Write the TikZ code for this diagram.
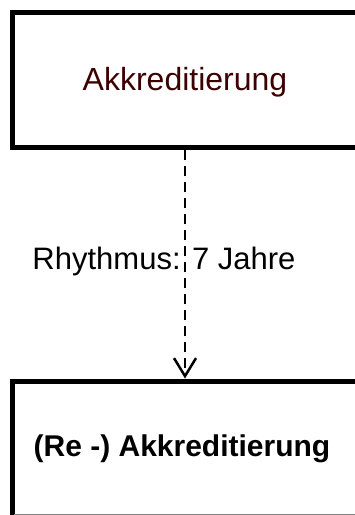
\documentclass[tikz,border=0pt]{standalone}
\usepackage{fontspec}
\setmainfont{Liberation Sans}
\usetikzlibrary{arrows.meta}
\definecolor{akkred}{RGB}{60,0,0}
\tikzset{
	akkbox/.style={draw=black, line width=5pt, minimum width=350pt, inner sep=0pt},
	akklabel/.style={font=\fontsize{31}{36}\selectfont, anchor=base, inner sep=0pt},
	cycleline/.style={line width=2.5pt, dash pattern=on 10pt off 6pt, -{Straight Barb[length=18pt,width=22pt,line width=2.5pt]}},
}

\begin{document}
\begin{tikzpicture}[x=1pt,y=-1pt]
				%%%%% START %%%%%
				\def\w{355}
				\def\h{515}
				\def\xbox{187}
				\def\yone{79.5}
				\def\ytwo{456}
				
				\useasboundingbox (0,0) rectangle (\w,\h);
				\clip (0,0) rectangle (\w,\h);
				
				% first accreditation
				\node[akkbox, minimum height=135pt] (akk) at (\xbox,\yone) {};
				\node[akklabel, font=\fontsize{32}{36}\selectfont, text=akkred] (akktext) at (185,90.5) {Akkreditierung};
				
				% re-accreditation
				\node[akkbox, minimum height=150pt] (reakk) at (\xbox,\ytwo) {};
				\node[akklabel, font=\fontsize{30}{34}\selectfont\bfseries] (reakktext) at (182,456) {(Re -) Akkreditierung};
				\draw[gray, line width=1pt] (14,514) -- (\w,514);
				
				% cycle
				\draw[cycleline] (akktext |- akk.south) -- (akktext |- reakk.north);
				\node[akklabel] (rhythm) at (164,269) {Rhythmus: 7 Jahre};
				%%%%% END %%%%%
\end{tikzpicture}
\end{document}
